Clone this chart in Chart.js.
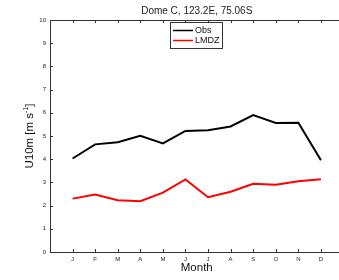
<!DOCTYPE html>
<html>
<head>
<meta charset="utf-8">
<script src="https://cdn.jsdelivr.net/npm/chart.js@4/dist/chart.umd.min.js"></script>
<style>
  html, body { margin: 0; padding: 0; background: #fff; overflow: hidden; }
  #wrap { width: 339px; height: 280px; }
</style>
</head>
<body>
<div id="wrap"><canvas id="windChart" width="339" height="280"></canvas></div>
<script>
// months and monthly 10 m wind speed at Dome C
const months = ['J', 'F', 'M', 'A', 'M', 'J', 'J', 'A', 'S', 'O', 'N', 'D'];
const obs = [4.03, 4.64, 4.73, 5.01, 4.68, 5.22, 5.25, 5.41, 5.9, 5.56, 5.57, 3.95];
const lmdz = [2.3, 2.48, 2.23, 2.19, 2.56, 3.13, 2.36, 2.6, 2.94, 2.9, 3.05, 3.14];
const yTicks = [0, 1, 2, 3, 4, 5, 6, 7, 8, 9, 10];

const font = '"Liberation Sans", Arial, sans-serif';
const toPoints = vals => vals.map((v, i) => ({ x: i + 1, y: v }));

// box, inside ticks, title, legend and axis labels drawn by hand
const matlabLook = {
    id: 'matlabLook',
    afterDraw(chart) {
        const { ctx, chartArea: a, scales: { x, y } } = chart;
        ctx.save();
        ctx.strokeStyle = '#333';
        ctx.lineWidth = 1;
        ctx.beginPath();
        ctx.moveTo(a.left + 0.5, a.bottom + 0.5);
        ctx.lineTo(a.left + 0.5, a.top + 0.5);
        ctx.lineTo(a.right + 5, a.top + 0.5);
        ctx.moveTo(a.left, a.bottom + 0.5);
        ctx.lineTo(a.right + 5, a.bottom + 0.5);
        // ticks
        months.forEach((m, i) => {
            const px = Math.round(x.getPixelForValue(i + 1)) + 0.5;
            ctx.moveTo(px, a.bottom);
            ctx.lineTo(px, a.bottom - 3);
            ctx.moveTo(px, a.top);
            ctx.lineTo(px, a.top + 3);
        });
        yTicks.forEach(t => {
            const py = Math.round(y.getPixelForValue(t)) + 0.5;
            ctx.moveTo(a.left, py);
            ctx.lineTo(a.left + 3, py);
        });
        ctx.stroke();

        const cx = x.getPixelForValue(6.5);

        // title
        ctx.fillStyle = '#222';
        ctx.font = '10px ' + font;
        ctx.textAlign = 'center';
        ctx.textBaseline = 'middle';
        ctx.fillText('Dome C, 123.2E, 75.06S', cx, 11);

        // x axis title
        ctx.fillStyle = '#111';
        ctx.font = '11.5px ' + font;
        ctx.fillText('Month', cx, 268);

        // y axis title with superscript
        ctx.save();
        ctx.translate(30, (a.top + a.bottom) / 2);
        ctx.rotate(-Math.PI / 2);
        ctx.textAlign = 'left';
        ctx.textBaseline = 'middle';
        const p1 = 'U10m [m s', sup = '-1', p2 = ']';
        ctx.font = '11.5px ' + font;
        const w1 = ctx.measureText(p1).width;
        const w3 = ctx.measureText(p2).width;
        ctx.font = '7px ' + font;
        const w2 = ctx.measureText(sup).width;
        let sx = -(w1 + w2 + w3) / 2;
        ctx.font = '11.5px ' + font;
        ctx.fillText(p1, sx, 0);
        ctx.font = '7px ' + font;
        ctx.fillText(sup, sx + w1, -4);
        ctx.font = '11.5px ' + font;
        ctx.fillText(p2, sx + w1 + w2, 0);
        ctx.restore();

        // legend
        const lx = 170.5, ly = 22.5, lw = 52, lh = 26;
        ctx.fillStyle = '#fff';
        ctx.fillRect(lx, ly, lw, lh);
        ctx.strokeStyle = '#333';
        ctx.strokeRect(lx, ly, lw, lh);
        ctx.font = '9px ' + font;
        ctx.textAlign = 'left';
        chart.data.datasets.forEach((ds, i) => {
            const yy = 30.5 + i * 10;
            ctx.strokeStyle = ds.borderColor;
            ctx.lineWidth = 1.5;
            ctx.beginPath();
            ctx.moveTo(173, yy);
            ctx.lineTo(193, yy);
            ctx.stroke();
            ctx.fillStyle = '#111';
            ctx.fillText(ds.label, 195, yy + 0.5);
        });
        ctx.restore();
    }
};

const chart = new Chart(document.getElementById('windChart'), {
    type: 'line',
    data: {
        datasets: [
            { label: 'Obs', data: toPoints(obs), borderColor: '#000000', borderWidth: 2, pointRadius: 0, tension: 0 },
            { label: 'LMDZ', data: toPoints(lmdz), borderColor: '#ff0000', borderWidth: 2, pointRadius: 0, tension: 0 }
        ]
    },
    options: {
        responsive: false,
        animation: false,
        layout: { padding: { top: 20, right: 0, left: 0, bottom: 0 } },
        plugins: { legend: { display: false }, title: { display: false }, tooltip: { enabled: false } },
        scales: {
            x: {
                type: 'linear',
                min: 0,
                max: 12.8,
                afterBuildTicks: s => { s.ticks = months.map((m, i) => ({ value: i + 1 })); },
                afterFit: s => { s.height = 28; },
                grid: { display: false, drawTicks: false },
                border: { display: false },
                ticks: {
                    autoSkip: false,
                    maxRotation: 0,
                    padding: 4,
                    color: '#222',
                    font: { family: font, size: 6 },
                    callback: v => months[v - 1] || ''
                }
            },
            y: {
                min: 0,
                max: 10,
                afterBuildTicks: s => { s.ticks = yTicks.map(v => ({ value: v })); },
                afterFit: s => { s.width = 50; },
                grid: { display: false, drawTicks: false },
                border: { display: false },
                ticks: {
                    padding: 4,
                    color: '#222',
                    font: { family: font, size: 6 }
                }
            }
        }
    },
    plugins: [matlabLook]
});
</script>
</body>
</html>
